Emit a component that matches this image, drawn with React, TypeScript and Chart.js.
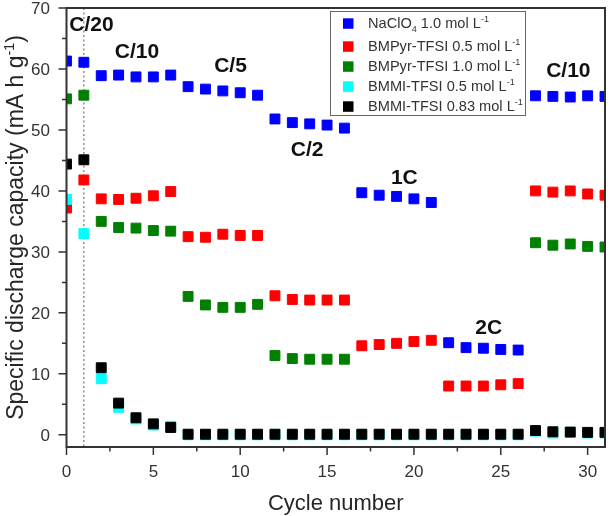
import React, { useEffect, useRef } from 'react';
import { Chart, registerables } from 'chart.js';

Chart.register(...registerables);

const FONT = 'Arial, "Liberation Sans", sans-serif';

// ---- data ----
const cycles = [0, 1, 2, 3, 4, 5, 6, 7, 8, 9, 10, 11, 12, 13, 14, 15, 16, 17, 18, 19, 20, 21, 22, 23, 24, 25, 26, 27, 28, 29, 30, 31];

const naclo4_10 = [61.3, 61.1, 58.9, 59.0, 58.7, 58.7, 59.0, 57.1, 56.7, 56.4, 56.1, 55.7, 51.8, 51.2, 51.0, 50.8, 50.3, 39.7, 39.3, 39.1, 38.7, 38.1, 15.1, 14.3, 14.2, 14.0, 13.9, 55.6, 55.5, 55.4, 55.6, 55.5];
const bmpyr_05 = [37.2, 41.8, 38.7, 38.6, 38.8, 39.2, 39.9, 32.5, 32.4, 32.9, 32.7, 32.7, 22.8, 22.2, 22.1, 22.1, 22.1, 14.6, 14.8, 15.0, 15.3, 15.5, 8.0, 8.0, 8.0, 8.2, 8.4, 40.0, 39.8, 40.0, 39.5, 39.3];
const bmpyr_10 = [55.1, 55.7, 35.0, 34.0, 33.9, 33.5, 33.4, 22.7, 21.3, 20.9, 20.9, 21.4, 13.0, 12.5, 12.4, 12.4, 12.4, null, null, null, null, null, null, null, null, null, null, 31.5, 31.1, 31.3, 30.9, 30.8];
const bmmi_05 = [38.6, 33.0, 9.2, 4.5, 2.6, 1.6, 1.4, 0, 0, 0, 0, 0, 0, 0, 0, 0, 0, 0, 0, 0, 0, 0, 0, 0, 0, 0, 0, 0.6, 0.3, 0.4, 0.3, 0.3];
const bmmi_083 = [44.4, 45.1, 11.0, 5.2, 2.8, 1.8, 1.2, 0.1, 0.1, 0.1, 0.1, 0.1, 0.1, 0.1, 0.1, 0.1, 0.1, 0.1, 0.1, 0.1, 0.1, 0.1, 0.1, 0.1, 0.1, 0.1, 0.1, 0.7, 0.5, 0.45, 0.4, 0.4];

const seriesValues = [naclo4_10, bmpyr_05, bmpyr_10, bmmi_05, bmmi_083];
const seriesColors = ['#0000ff', '#ff0000', '#008000', '#00ffff', '#000000'];
const seriesOrder = [2, 3, 4, 1, 0];

type Part = { s: string; t: 'n' | 'sub' | 'sup' };

const legendParts: Part[][] = [
  [{ s: 'NaClO', t: 'n' }, { s: '4', t: 'sub' }, { s: ' 1.0 mol L', t: 'n' }, { s: '-1', t: 'sup' }],
  [{ s: 'BMPyr-TFSI 0.5 mol L', t: 'n' }, { s: '-1', t: 'sup' }],
  [{ s: 'BMPyr-TFSI 1.0 mol L', t: 'n' }, { s: '-1', t: 'sup' }],
  [{ s: 'BMMI-TFSI 0.5 mol L', t: 'n' }, { s: '-1', t: 'sup' }],
  [{ s: 'BMMI-TFSI 0.83 mol L', t: 'n' }, { s: '-1', t: 'sup' }],
];

const rateLabels = ['C/20', 'C/10', 'C/5', 'C/2', '1C', '2C', 'C/10'];
const rateLabelX = [1.44, 4.06, 9.44, 13.85, 19.45, 24.31, 28.89];
const rateLabelY = [67.4, 63.0, 60.7, 47.0, 42.4, 17.8, 59.9];

const xTicks = [0, 5, 10, 15, 20, 25, 30];
const xMinorTicks = [2.5, 7.5, 12.5, 17.5, 22.5, 27.5];
const yTicks = [0, 10, 20, 30, 40, 50, 60, 70];
const yMinorTicks = [5, 15, 25, 35, 45, 55, 65];
const rateChangeCycle = 1;

const xTitle = 'Cycle number';
const yTitleParts: Part[] = [
  { s: 'Specific discharge capacity (mA h g', t: 'n' },
  { s: '-1', t: 'sup' },
  { s: ')', t: 'n' },
];

function richWidth(ctx: CanvasRenderingContext2D, parts: Part[], size: number) {
  let w = 0;
  for (const p of parts) {
    const fs = p.t === 'n' ? size : size * 0.62;
    ctx.font = `${fs}px ${FONT}`;
    w += ctx.measureText(p.s).width;
  }
  return w;
}

function drawRich(ctx: CanvasRenderingContext2D, parts: Part[], x: number, y: number, size: number) {
  let cx = x;
  for (const p of parts) {
    const fs = p.t === 'n' ? size : size * 0.62;
    ctx.font = `${fs}px ${FONT}`;
    const dy = p.t === 'sub' ? size * 0.28 : p.t === 'sup' ? -size * 0.4 : 0;
    ctx.fillText(p.s, cx, y + dy);
    cx += ctx.measureText(p.s).width;
  }
}

const decorPlugin = {
  id: 'decor',
  beforeDatasetsDraw(chart: any) {
    const { ctx, chartArea, scales } = chart;
    const x = scales.x.getPixelForValue(rateChangeCycle);
    ctx.save();
    ctx.strokeStyle = '#555';
    ctx.lineWidth = 1;
    ctx.setLineDash([2, 2.5]);
    ctx.beginPath();
    ctx.moveTo(x, chartArea.top);
    ctx.lineTo(x, chartArea.bottom);
    ctx.stroke();
    ctx.restore();
  },
  afterDraw(chart: any) {
    const { ctx, chartArea, scales } = chart;
    const { left, right, top, bottom } = chartArea;
    ctx.save();
    // frame
    ctx.strokeStyle = '#333';
    ctx.lineWidth = 2;
    ctx.strokeRect(left, top, right - left, bottom - top);

    // ticks
    ctx.lineWidth = 1.5;
    ctx.beginPath();
    for (const v of xTicks) {
      const px = scales.x.getPixelForValue(v);
      ctx.moveTo(px, bottom);
      ctx.lineTo(px, bottom + 8);
    }
    for (const v of xMinorTicks) {
      const px = scales.x.getPixelForValue(v);
      ctx.moveTo(px, bottom);
      ctx.lineTo(px, bottom + 4.5);
    }
    for (const v of yTicks) {
      const py = scales.y.getPixelForValue(v);
      ctx.moveTo(left, py);
      ctx.lineTo(left - 8, py);
    }
    for (const v of yMinorTicks) {
      const py = scales.y.getPixelForValue(v);
      ctx.moveTo(left, py);
      ctx.lineTo(left - 4.5, py);
    }
    ctx.stroke();

    // tick labels
    ctx.fillStyle = '#333';
    ctx.font = `17px ${FONT}`;
    ctx.textBaseline = 'alphabetic';
    ctx.textAlign = 'center';
    for (const v of xTicks) {
      ctx.fillText(String(v), scales.x.getPixelForValue(v), bottom + 30);
    }
    ctx.textAlign = 'right';
    for (const v of yTicks) {
      ctx.fillText(String(v), left - 16.5, scales.y.getPixelForValue(v) + 6.3);
    }

    // rate labels
    ctx.fillStyle = '#111';
    ctx.font = `bold 21px ${FONT}`;
    ctx.textAlign = 'center';
    rateLabels.forEach((t, i) => {
      const px = scales.x.getPixelForValue(rateLabelX[i]);
      const py = scales.y.getPixelForValue(rateLabelY[i]);
      ctx.fillText(t, px, py + 7.5);
    });

    // legend
    ctx.strokeStyle = '#666';
    ctx.lineWidth = 1;
    ctx.strokeRect(330.5, 11.5, 195, 104);
    const rows = [23.5, 46.5, 66.5, 86.5, 106.5];
    ctx.textAlign = 'left';
    rows.forEach((ry, i) => {
      ctx.fillStyle = seriesColors[i];
      ctx.fillRect(343, ry - 5.2, 10.5, 10.5);
      ctx.fillStyle = '#333';
      drawRich(ctx, legendParts[i], 368, ry + 4, 14.6);
    });

    // axis titles
    ctx.fillStyle = '#262626';
    ctx.textAlign = 'left';
    const tsize = 23;
    const tw = richWidth(ctx, yTitleParts, tsize);
    ctx.save();
    ctx.translate(23, (top + bottom) / 2);
    ctx.rotate(-Math.PI / 2);
    drawRich(ctx, yTitleParts, -tw / 2, 0, tsize);
    ctx.restore();

    ctx.font = `22px ${FONT}`;
    ctx.textAlign = 'center';
    ctx.fillText(xTitle, (left + right) / 2, 510);
    ctx.restore();
  },
};

export default function App() {
  const ref = useRef<HTMLCanvasElement | null>(null);

  useEffect(() => {
    if (!ref.current) return;
    const datasets = seriesValues.map((vals, si) => ({
      label: legendParts[si].map((p) => p.s).join(''),
      data: cycles
        .map((c, i) => ({ x: c, y: vals[i] }))
        .filter((p) => p.y !== null && p.y !== undefined),
      backgroundColor: seriesColors[si],
      borderColor: seriesColors[si],
      pointStyle: 'rect',
      pointRadius: 7,
      pointBorderWidth: 1,
      showLine: false,
      clip: 0,
      order: seriesOrder[si],
    }));

    const chart = new Chart(ref.current, {
      type: 'scatter',
      data: { datasets: datasets as any },
      plugins: [decorPlugin],
      options: {
        animation: false,
        responsive: false,
        devicePixelRatio: 1,
        events: [],
        layout: { padding: { top: 8, right: 2.3, left: 66.5, bottom: 69 } },
        plugins: { legend: { display: false }, tooltip: { enabled: false } },
        scales: {
          x: { type: 'linear', min: 0, max: 31, display: false },
          y: { type: 'linear', min: -2, max: 70, display: false },
        },
      } as any,
    });
    return () => chart.destroy();
  }, []);

  return (
    <div style={{ position: 'absolute', left: 0, top: 0, width: 613, height: 516, background: '#fff' }}>
      <canvas ref={ref} width={613} height={516} style={{ width: 613, height: 516 }} />
    </div>
  );
}
